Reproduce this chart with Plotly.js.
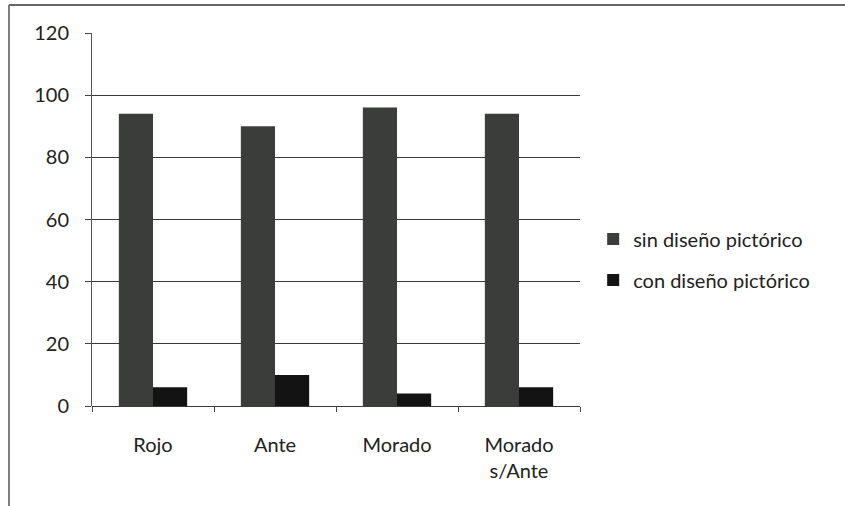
<!DOCTYPE html>
<html>
<head>
<meta charset="utf-8">
<script src="https://cdn.plot.ly/plotly-3.0.1.min.js"></script>
<style>html,body{margin:0;padding:0;background:#fff;}#chart{width:845px;height:506px;}</style>
</head>
<body>
<div id="chart"></div>
<script>
const categories = ["Rojo", "Ante", "Morado", "Morado<br>s/Ante"];
const sinDiseno = [94, 90, 96, 94];
const conDiseno = [6, 10, 4, 6];
const seriesNames = ["sin diseño pictórico", "con diseño pictórico"];
const yTicks = [0, 20, 40, 60, 80, 100, 120];

const font = {family: "Lato, 'Open Sans', sans-serif", color: "#222"};

const traces = [
  {type: "bar", name: seriesNames[0], x: categories, y: sinDiseno,
   marker: {color: "#3b3d3b", line: {width: 0}}, legendgroup: "a"},
  {type: "bar", name: seriesNames[1], x: categories, y: conDiseno,
   marker: {color: "#131313", line: {width: 0}}, legendgroup: "b"}
];

const layout = {
  width: 845, height: 506,
  margin: {l: 92, r: 265, t: 33, b: 100},
  paper_bgcolor: "#fff", plot_bgcolor: "#fff",
  font: Object.assign({size: 20}, font),
  barmode: "group", bargap: 0.44, bargroupgap: 0,
  showlegend: true,
  legend: {x: 1.027, xanchor: "left", y: 0.5, yanchor: "top",
           font: Object.assign({size: 20}, font), tracegroupgap: 12,
           traceorder: "grouped", bgcolor: "rgba(0,0,0,0)"},
  xaxis: {type: "category", showgrid: false, zeroline: false, showline: false,
          ticks: "outside", tickson: "boundaries", ticklen: 5, tickcolor: "#444",
          ticklabelstandoff: 25, tickfont: Object.assign({size: 20}, font)},
  yaxis: {range: [0, 120], tickvals: yTicks, ticktext: yTicks.map(String),
          showgrid: true, gridcolor: "#3a3a3a", gridwidth: 1,
          zeroline: true, zerolinecolor: "#3a3a3a", zerolinewidth: 1,
          showline: true, linecolor: "#555", linewidth: 1,
          ticks: "outside", ticklen: 6, tickcolor: "#444",
          ticklabelstandoff: 12, tickfont: Object.assign({size: 20}, font)},
  shapes: [
    {type: "line", xref: "paper", yref: "paper", x0: -0.1701, x1: 1.6, y0: 1.0751, y1: 1.0751,
     line: {color: "#333", width: 1.5}},
    {type: "line", xref: "paper", yref: "paper", x0: -0.1701, x1: -0.1701, y0: 1.0751, y1: -0.3,
     line: {color: "#555", width: 1.5}}
  ]
};

Plotly.newPlot("chart", traces, layout, {displayModeBar: false, staticPlot: true});
</script>
</body>
</html>
